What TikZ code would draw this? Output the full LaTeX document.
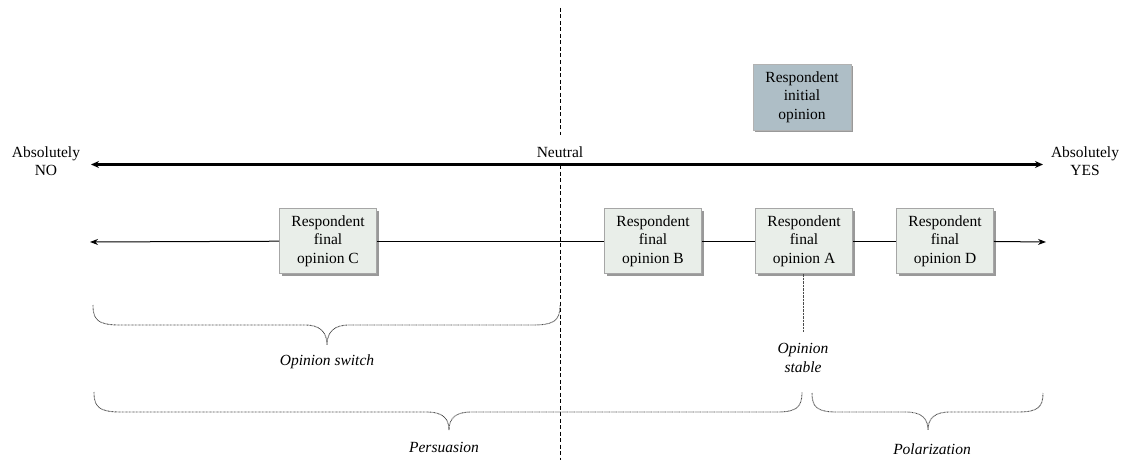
\documentclass[tikz,border=0pt]{standalone}
\usepackage{fontspec}
\setmainfont{Liberation Serif}
\usetikzlibrary{arrows.meta,shadows}
\begin{document}
\begin{tikzpicture}[x=1pt,y=-1pt,
  every node/.style={font=\fontsize{15.5}{18.5}\selectfont, align=center, inner sep=0pt},
  finalbox/.style={draw=gray!70, line width=0.6pt, fill={rgb,255:red,233;green,238;blue,233},
    minimum width=97pt, minimum height=65pt,
    drop shadow={shadow xshift=2pt, shadow yshift=-2pt, opacity=0.4, fill=black}},
  initbox/.style={draw=gray!60, line width=0.6pt, fill={rgb,255:red,174;green,190;blue,198},
    minimum width=98pt, minimum height=66pt,
    drop shadow={shadow xshift=2pt, shadow yshift=-2pt, opacity=0.4, fill=black}},
  bigarrow/.style={line width=2.2pt, {Stealth[length=8pt,width=7pt]}-{Stealth[length=8pt,width=7pt]}},
  thinarrow/.style={line width=1pt, -{Stealth[length=8pt,width=6pt]}},
  thinline/.style={line width=1pt},
  neutralline/.style={line width=0.9pt, dash pattern=on 4pt off 2.5pt},
  bracestyle/.style={line width=0.9pt, draw=gray!60!black, dash pattern=on 0.8pt off 0.6pt},
  stableline/.style={line width=0.9pt, draw=gray!60!black, dash pattern=on 0.8pt off 0.6pt},
  lbl/.style={font=\fontsize{15.5}{18.5}\selectfont\itshape}
]
\useasboundingbox (0,0) rectangle (1123,460);

% neutral dashed line
\coordinate (ntop) at (560,8);
\coordinate (nmid) at (560,135);
\coordinate (narrow) at (560,165);
\coordinate (nbot) at (560,460);
\draw[neutralline] (ntop) -- (nmid);
\draw[neutralline] (narrow) -- (nbot);
\node (neutral) at (560,152) {Neutral};

% top scale
\node (no) at (46,161) {Absolutely\\NO};
\node (yes) at (1085,161) {Absolutely\\YES};
\coordinate (tl) at (91,164.5);
\coordinate (tr) at (1043,164.5);
\draw[bigarrow] (tl) -- (tr);

% initial opinion
\node[initbox] (init) at (802,97) {Respondent\\initial\\opinion};

% final opinions
\node[finalbox] (C) at (328,241) {Respondent\\final\\opinion C};
\node[finalbox] (B) at (653,241) {Respondent\\final\\opinion B};
\node[finalbox] (A) at (804,241) {Respondent\\final\\opinion A};
\node[finalbox] (D) at (945,241) {Respondent\\final\\opinion D};
\coordinate (ll) at (90,242);
\coordinate (lr) at (1046,242);
\draw[thinarrow] (C) -- (ll);
\draw[thinline] (C) -- (B);
\draw[thinline] (B) -- (A);
\draw[thinline] (A) -- (D);
\draw[thinarrow] (D) -- (lr);

% opinion stable
\coordinate (stableend) at (803,331);
\draw[stableline] (803,273.5) -- (stableend);
\node[lbl] (stable) at (803,358) {Opinion\\stable};

% brace: opinion switch
\draw[bracestyle] (93,305) .. controls (93,320) and (98,325) .. (120,325)
  -- (305,325) .. controls (320,325) and (327,332) .. (327,345)
  .. controls (327,332) and (334,325) .. (349,325)
  -- (533,325) .. controls (555,325) and (560,320) .. (560,305);
\node[lbl] (switch) at (327,362) {Opinion switch};

% brace: persuasion
\draw[bracestyle] (94,392) .. controls (94,407) and (99,412) .. (121,412)
  -- (427,412) .. controls (442,412) and (449,418) .. (449,430)
  .. controls (449,418) and (456,412) .. (471,412)
  -- (777,412) .. controls (797,412) and (802,407) .. (802,392);
\node[lbl] (persuasion) at (444,447) {Persuasion};

% brace: polarization
\draw[bracestyle] (812,393) .. controls (812,407) and (817,412) .. (837,412)
  -- (906,412) .. controls (921,412) and (928,418) .. (928,430)
  .. controls (928,418) and (935,412) .. (950,412)
  -- (1018,412) .. controls (1038,412) and (1043,407) .. (1043,393);
\node[lbl] (polarization) at (932,449) {Polarization};
\end{tikzpicture}
\end{document}
